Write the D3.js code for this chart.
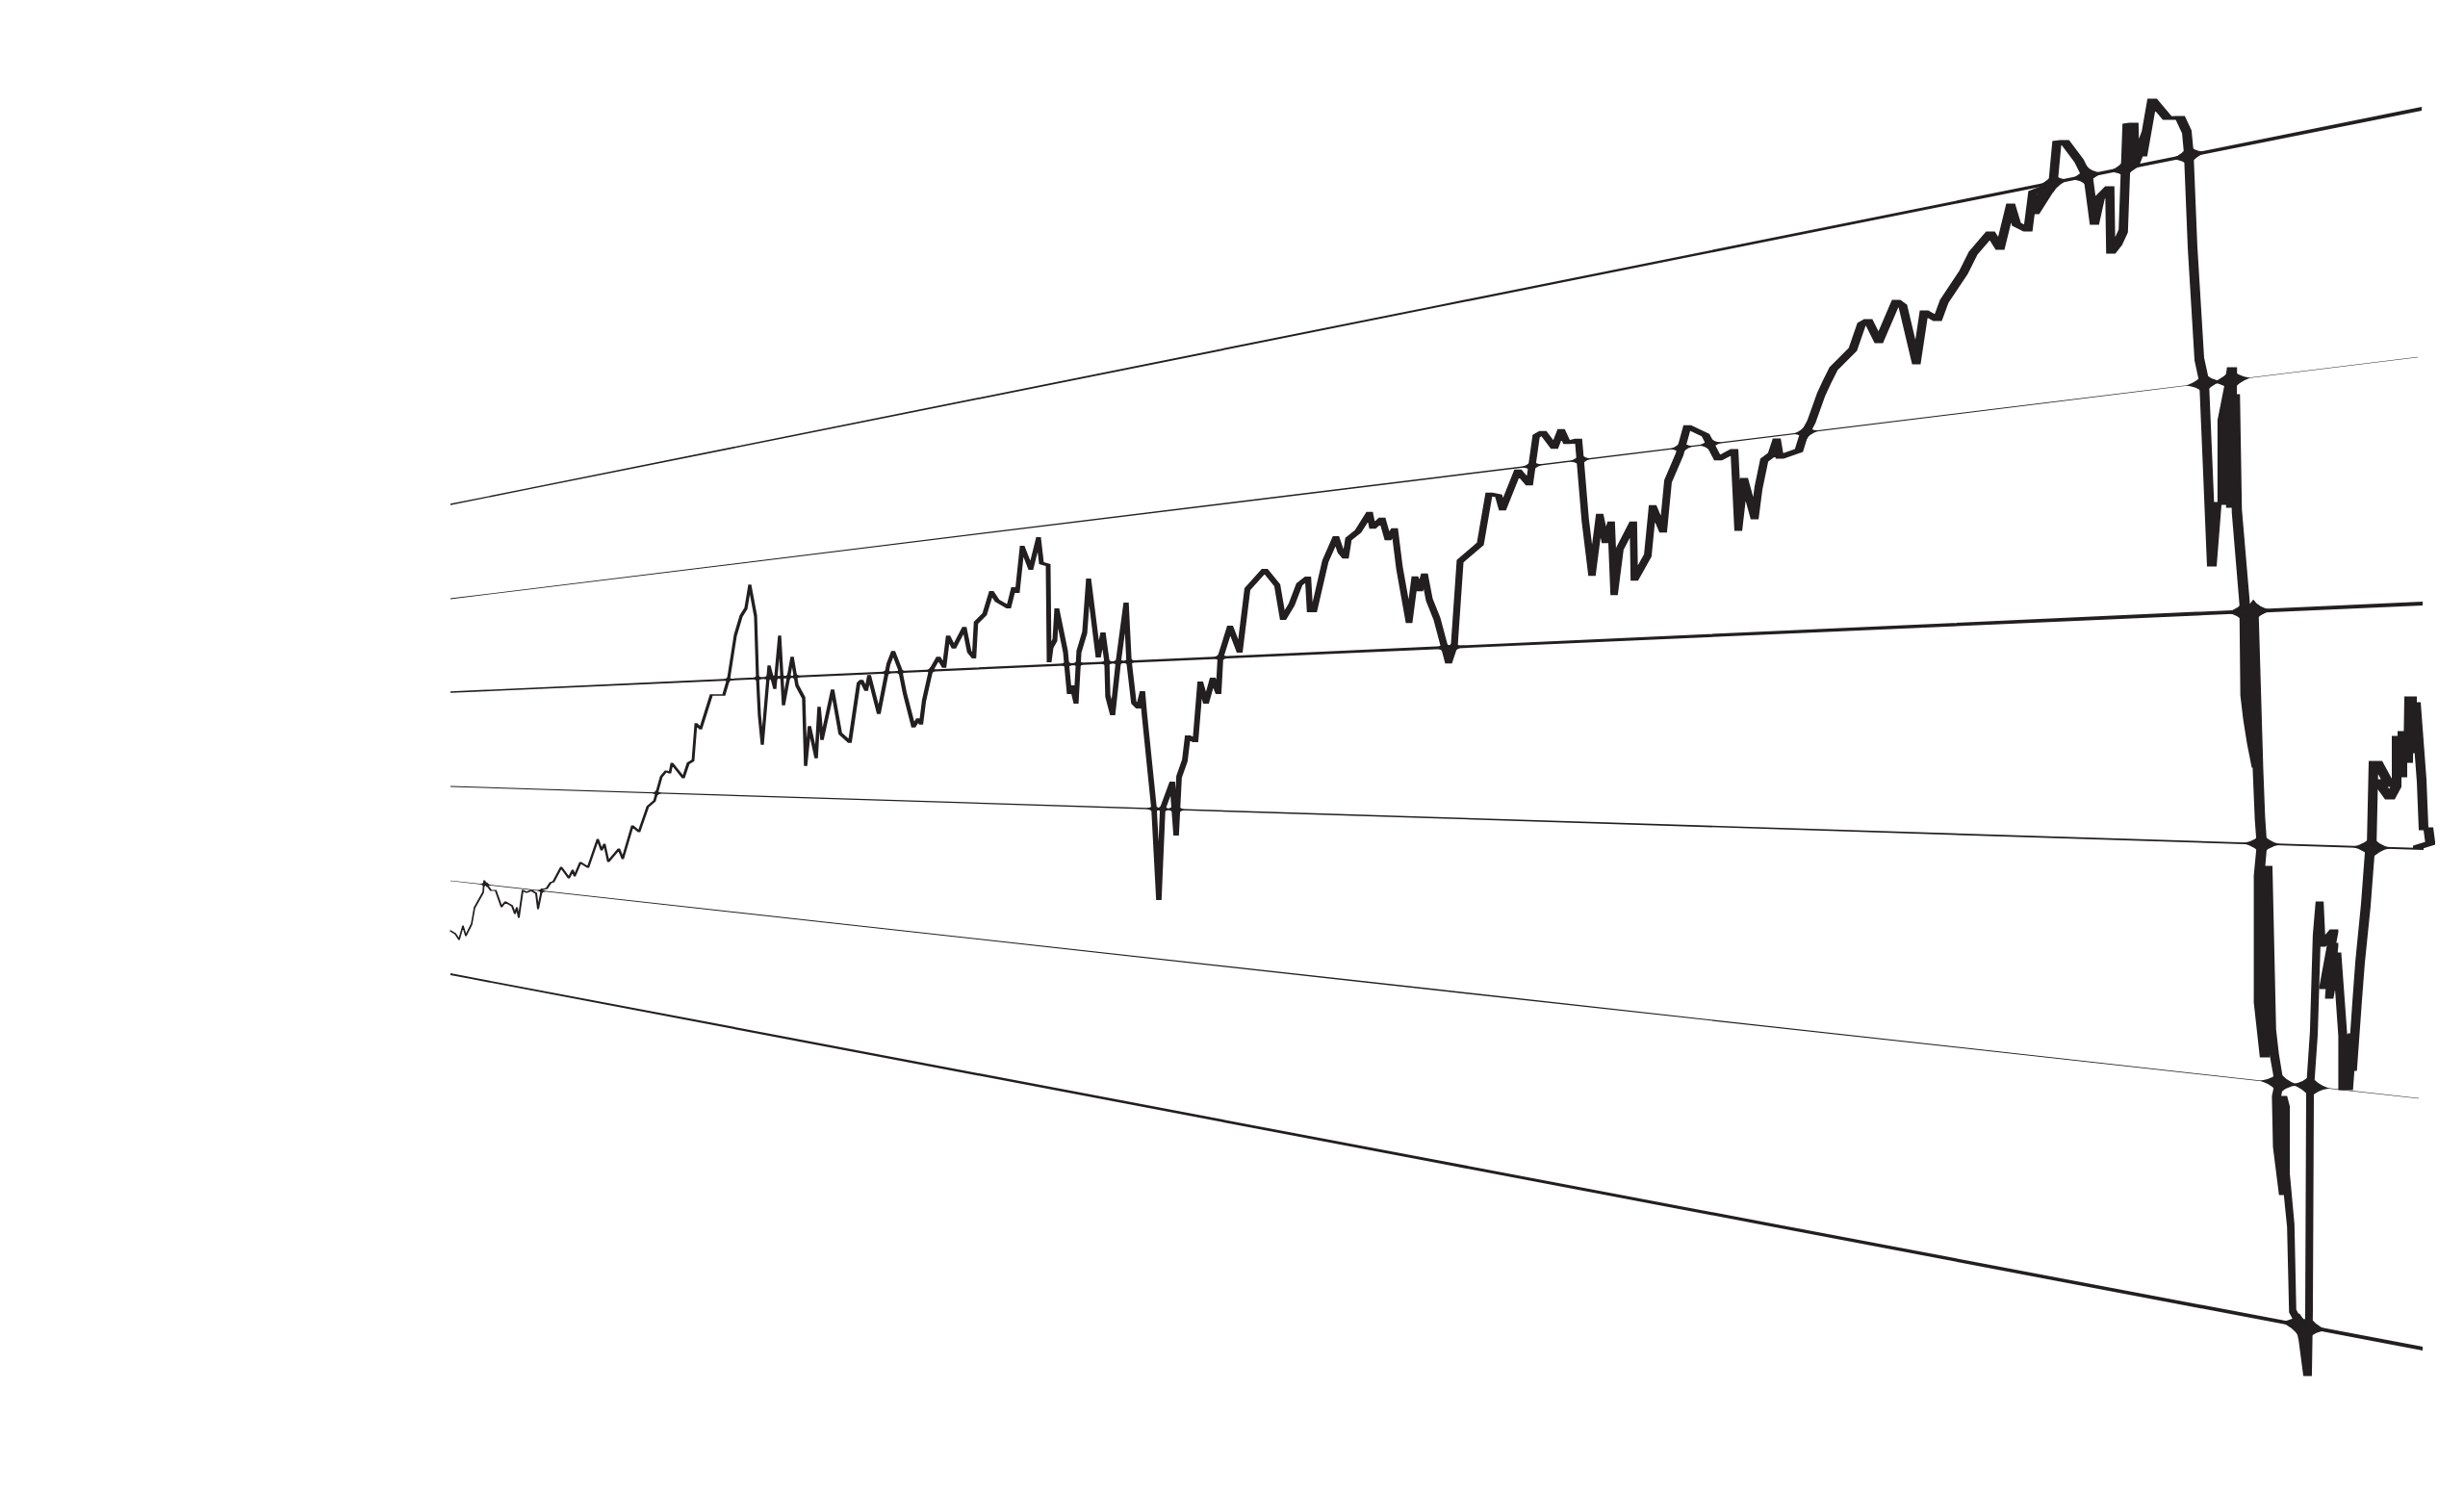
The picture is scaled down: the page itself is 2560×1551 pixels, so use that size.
<!DOCTYPE html>
<html>
<head>
<meta charset="utf-8">
<script src="https://cdn.jsdelivr.net/npm/d3@7"></script>
<style>html,body{margin:0;padding:0;background:#fff}svg{display:block}</style>
</head>
<body>
<script>
// Series: position along the time axis and index level.
const days = [
468,473,477,481,484,490,493,502,503,510,515,521,525,532,535,537,539,543,547,552,557,559,563,568,572,575,583,591,595,597,603,611,621,625,628,632,643,647,657,664,673,680,687,692,696,698,710,715,720,723,728,739,752,757,764,770,775,779,785,787,789,792,799,805,810,814,823,828,835,837,841,848,851,854,865,873,883,892,895,900,903,913,923,928,935,940,949,
954,957,960,967,975,981,985,991,1002,1007,1012,1014,1023,1030,1036,1048,1053,1057,1062,1071,1079,1082,1089,1090,1092,1096,1098,1107,1111,1114,1118,1121,1127,1131,1141,1146,1150,1151,1156,1162,1170,1173,1178,1183,1187,1189,1199,1204,1208,1218,1222,1225,1231,1234,1242,1247,1253,1260,1266,1268,1278,1288,1296,1314,1327,1333,1342,1350,1359,1361,1365,1377,1388,1393,1398,1401,1411,1423,1426,1436,1442,1449,1454,1464,1470,1475,1480,1485,1493,1505,
1511,1517,1538,1547,1557,1561,1577,1589,1596,1603,1615,1622,1628,1640,1642,1647,1654,1662,1668,1674,1677,1683,1697,1698,1712,1717,1728,1733,1745,1753,1772,1785,1802,1806,1812,1823,1827,1833,1841,1846,1849,1869,1873,
1882,1892,1898,1905,1925,1934,1941,1952,1970,1977,1991,1999,2013,2020,2040,2050,2068,2078,2089,2095,2107,2112,2125,2114,2133,2137,2145,2160,2170,2176,2182,2192,2193,2200,2206,2210,2217,2218,2230,2226,2236,2252,2265,2272,2274,
2278,2285,2290,2293,2298,2303,2309,2309,2316,2319,2318,2322,2324,2332,
2333,2336,2340,2345,2341,2346,2348,2350,2347,2347,2353,2356,2360,2363,2368,
2365,2366,2372,2372,2375,2375,2380,2382,2388,2392,2397,2398,2399,2400,2400,2404,2407,2410,2412,2425,2414,2425,2420,2428,2434,2434,2440,2440,2444,2444,2449,2452,2458,2462,2464,2466,2470,2483,2470,2483,2490,2490,2496,2496,2502,2503,2506,2506,2510,2516,2518,2523,2525,2512];
const levels = [
584,581,575,589,579,591,608,624,636,626,626,609,614,610,602,608,598,626,624,626,623,607,627,628,634,635,650,639,647,641,655,650,679,668,674,656,669,659,693,687,713,719,744,750,748,758,743,758,761,799,794,829,829,846,891,911,919,943,911,848,808,778,859,836,890,819,868,839,826,756,796,764,816,783,834,789,780,841,844,834,849,810,861,874,856,831,796,
804,799,823,854,868,858,890,878,899,874,868,904,913,936,927,920,940,936,983,960,992,966,964,864,879,886,918,874,831,838,821,874,894,949,869,893,864,828,809,864,924,864,821,816,832,809,711,617,711,738,684,744,761,786,781,842,821,846,831,868,900,874,939,959,943,908,923,944,951,916,916,968,993,978,972,991,999,1018,1003,1012,991,1001,961,905,951,938,954,928,908,863,
881,968,986,1038,1036,1022,1062,1048,1098,1102,1086,1104,1091,1094,1071,1011,954,1016,988,1008,934,981,1008,949,974,1025,999,1051,1079,1108,1099,1074,1083,1001,1053,1013,1044,1073,1079,1094,1076,1083,1096,
1113,1141,1154,1168,1188,1214,1218,1196,1238,1233,1174,1227,1219,1238,1268,1288,1309,1293,1338,1318,1312,1351,1356,1330,1360,1403,1404,1384,1364,1319,1346,1356,1289,1298,1311,1421,1422,1381,1413,1390,1447,1428,1429,1414,1393,
1294,1178,1155,1084,964,1028,1028,1113,1148,1168,1025,1140,1020,925,
830,805,780,755,920,751,701,673,640,511,454,650,480,455,426,
411,361,311,411,400,330,278,189,178,160,123,123,189,411,419,478,578,613,569,584,525,570,515,560,476,420,475,420,476,440,511,551,611,664,669,759,759,735,740,722,735,785,745,790,760,826,826,770,820,740,690,690,675,671];

// Grid lines, read as levels at their left and right ends.
const gridStartDay = 468;
const gridEndDays = [2516,2512,2517,2518,2513,2517];
const gridStartLevels = [1027,929,832,734,636,539];
const gridEndLevels = [1438,1180,924,669,410,150];

// Styling
const ink = "#231f20";
const gridWeights = [[1.3,2.2,3.8],[0.8,1.6,0.3],[1.6,2.8,4.2],[1,1.6,1.8],[0.6,1.5,0.5],[1.8,3,4]];
const gridStops = [0,0.5,1];

const W = 2560, H = 1551;
const x = d3.scaleLinear().domain([0, W]).range([0, W]);
const y = d3.scaleLinear().domain([0, H]).range([H, 0]);

// Pen grows along the time axis: wide horizontally, thin vertically.
const penX = d3.scaleLinear().domain([468,900,1200,1500,2000,2300,2345,2385,2400,2460,2517]).range([0.7,1.9,2.8,3.5,4.4,5,5.5,3.6,4,5,5]).clamp(true);
const penY = d3.scaleLinear().domain([468,900,1500,2000,2517]).range([0.4,0.8,1.2,1.5,1.6]).clamp(true);
const flare = d3.scaleLinear().domain([468,1200,1800,2400]).range([4,8,12,20]).clamp(true);

const svg = d3.select("body").append("svg").attr("width", W).attr("height", H).attr("viewBox", `0 0 ${W} ${H}`);
svg.append("rect").attr("width", W).attr("height", H).attr("fill", "#fff");

// Grid lines
const gridLevel = (i, d) => {
  const t = (d - gridStartDay) / (gridEndDays[i] - gridStartDay);
  return gridStartLevels[i] + t * (gridEndLevels[i] - gridStartLevels[i]);
};
const gridArea = d3.area().x(p => p.x).y0(p => p.y - p.w / 2).y1(p => p.y + p.w / 2);
svg.append("g").selectAll("path").data(gridEndDays).join("path")
  .attr("fill", ink)
  .attr("d", (end, i) => gridArea(gridStops.map((s, k) => {
    const d = gridStartDay + s * (end - gridStartDay);
    return {x: x(d), y: y(gridLevel(i, d)), w: gridWeights[i][k]};
  })));

// Series as swept pen
const pts = days.map((d, i) => [x(d), y(levels[i])]);
const corners = ([px, py]) => {
  const a = penX(px), b = penY(px);
  return [[px - a, py - b], [px + a, py - b], [px + a, py + b], [px - a, py + b]];
};
const line = d3.line();
let seriesPath = "";
for (let i = 1; i < pts.length; i++) {
  const hull = d3.polygonHull(corners(pts[i - 1]).concat(corners(pts[i])));
  seriesPath += line(hull) + "Z";
}
svg.append("path").attr("fill", ink).attr("d", seriesPath);

// Flares where the series crosses a grid line
const crossings = [];
gridEndDays.forEach((end, g) => {
  const slope = (gridEndLevels[g] - gridStartLevels[g]) / (end - gridStartDay);
  for (let i = 1; i < days.length; i++) {
    const d0 = levels[i - 1] - gridLevel(g, days[i - 1]);
    const d1 = levels[i] - gridLevel(g, days[i]);
    if (d0 === 0 || d0 * d1 < 0) {
      const t = d0 / (d0 - d1);
      const day = days[i - 1] + t * (days[i] - days[i - 1]);
      crossings.push({day, level: gridLevel(g, day), slope});
    }
  }
});
const starPath = c => {
  const cx = x(c.day), cy = y(c.level), a = flare(cx), b = a * 0.62, s = -c.slope;
  const k = 0.28;
  return `M${cx - a},${cy - a * s}` +
    `Q${cx - a * k},${cy - a * k * s - b * k} ${cx},${cy - b}` +
    `Q${cx + a * k},${cy + a * k * s - b * k} ${cx + a},${cy + a * s}` +
    `Q${cx + a * k},${cy + a * k * s + b * k} ${cx},${cy + b}` +
    `Q${cx - a * k},${cy - a * k * s + b * k} ${cx - a},${cy - a * s}Z`;
};
svg.append("g").selectAll("path").data(crossings).join("path").attr("fill", ink).attr("d", starPath);
</script>
</body>
</html>
